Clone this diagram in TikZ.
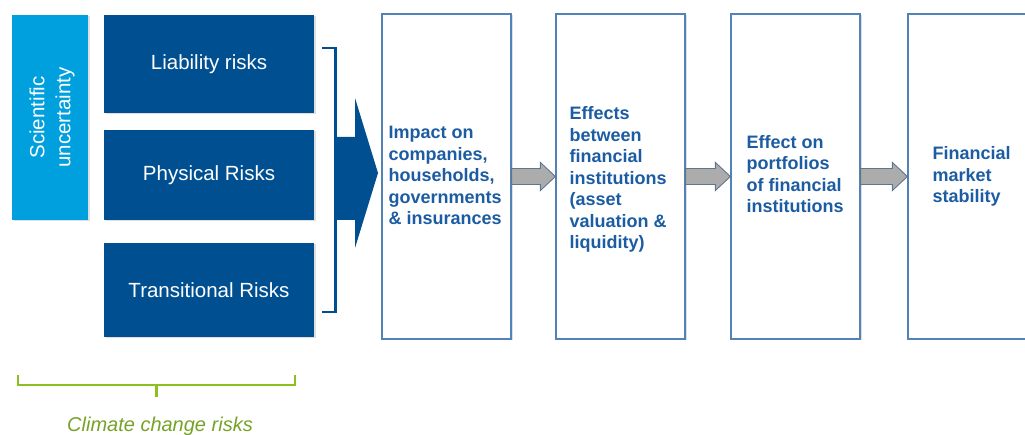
\documentclass[tikz,border=0pt]{standalone}
\usepackage{fontspec}
\setmainfont{Liberation Sans}
\usetikzlibrary{calc,shadows}
\definecolor{lightblue}{RGB}{0,160,223}
\definecolor{darkblue}{RGB}{0,80,145}
\definecolor{textblue}{RGB}{28,92,162}
\definecolor{edgeblue}{RGB}{82,130,184}
\definecolor{climgreen}{RGB}{140,192,32}
\definecolor{climtext}{RGB}{118,162,40}
\definecolor{arrowgray}{RGB}{172,172,172}
\definecolor{arrowedge}{RGB}{96,118,140}
\tikzset{
	boxshadow/.style={drop shadow={shadow xshift=1.5pt, shadow yshift=-1.5pt, opacity=0.25}},
	riskbox/.style={fill=darkblue, text=white, minimum width=210pt, inner sep=0pt, font=\fontsize{20.5}{25}\selectfont, boxshadow},
	stagebox/.style={draw=edgeblue, line width=1.2pt, fill=white, minimum width=129pt, minimum height=325pt, inner sep=0pt, boxshadow},
	stagetext/.style={text=textblue, anchor=west, align=left, inner sep=0pt, font=\bfseries\fontsize{18}{21.5}\selectfont},
	stagearrow/.style={fill=arrowgray, draw=arrowedge, line width=0.9pt, line join=miter}
}
\def\stagearrow(#1)(#2){\draw[stagearrow] ($(#1.east)+(0,-8)$) -- ($(#2.west)+(-15,-8)$) -- ($(#2.west)+(-15,-14)$) -- (#2.west) -- ($(#2.west)+(-15,14)$) -- ($(#2.west)+(-15,8)$) -- ($(#1.east)+(0,8)$) -- cycle;}
\begin{document}
\begin{tikzpicture}[x=1pt, y=-1pt]
			%%%%% START %%%%%
			
			\clip (0,0) rectangle (1025,435);
			\fill[white] (0,0) rectangle (1025,435);
			
			\node[fill=lightblue, minimum width=76pt, minimum height=205pt, inner sep=0pt, boxshadow] (science) at (50,117.5) {};
			\node[text=white, rotate=90, align=center, font=\fontsize{20.5}{26}\selectfont] (sciencelabel) at ($(science.center)+(2,0)$) {Scientific\\uncertainty};
			
			\node[riskbox, minimum height=98pt] (liability) at (209,64) {Liability risks};
			\node[riskbox, minimum height=90pt] (physical) at (209,175) {Physical Risks};
			\node[riskbox, minimum height=94pt] (transition) at (209,290) {Transitional Risks};
			
			\draw[darkblue, line width=2.6pt] ($(liability.east)+(8,-16)$) -| ($(transition.east)+(21,22)$) -- ($(transition.east)+(8,22)$);
			\fill[darkblue] (335,137) -- (355,137) -- (355,98) -- (378,173) -- (355,248) -- (355,220) -- (335,220) -- cycle;
			
			\node[stagebox] (impact) at (446.5,176.5) {};
			\node[stagebox] (between) at (620.5,176.5) {};
			\node[stagebox] (portfolio) at (795.5,176.5) {};
			\node[stagebox] (stability) at (972.5,176.5) {};
			
			\node[stagetext] at ($(impact.west)+(7,-1)$) {Impact on\\companies,\\households,\\governments\\\& insurances};
			\node[stagetext] at ($(between.west)+(14,3)$) {Effects\\between\\financial\\institutions\\(asset\\valuation \&\\liquidity)};
			\node[stagetext] at ($(portfolio.west)+(16,-2.5)$) {Effect on\\portfolios\\of financial\\institutions};
			\node[stagetext] at ($(stability.west)+(25,0)$) {Financial\\market\\stability};
			
			\stagearrow(impact)(between)
			\stagearrow(between)(portfolio)
			\stagearrow(portfolio)(stability)
			
			\draw[climgreen, line width=2.6pt] (18,375) -- (18,385) -- (295,385) -- (295,375);
			\draw[climgreen, line width=2.6pt] (156.5,385) -- (156.5,397);
			\node[text=climtext, anchor=base, font=\itshape\fontsize{20}{24}\selectfont] (risklabel) at (160,431) {Climate change risks};
			
			%%%%% END %%%%%
		\end{tikzpicture}
\end{document}
